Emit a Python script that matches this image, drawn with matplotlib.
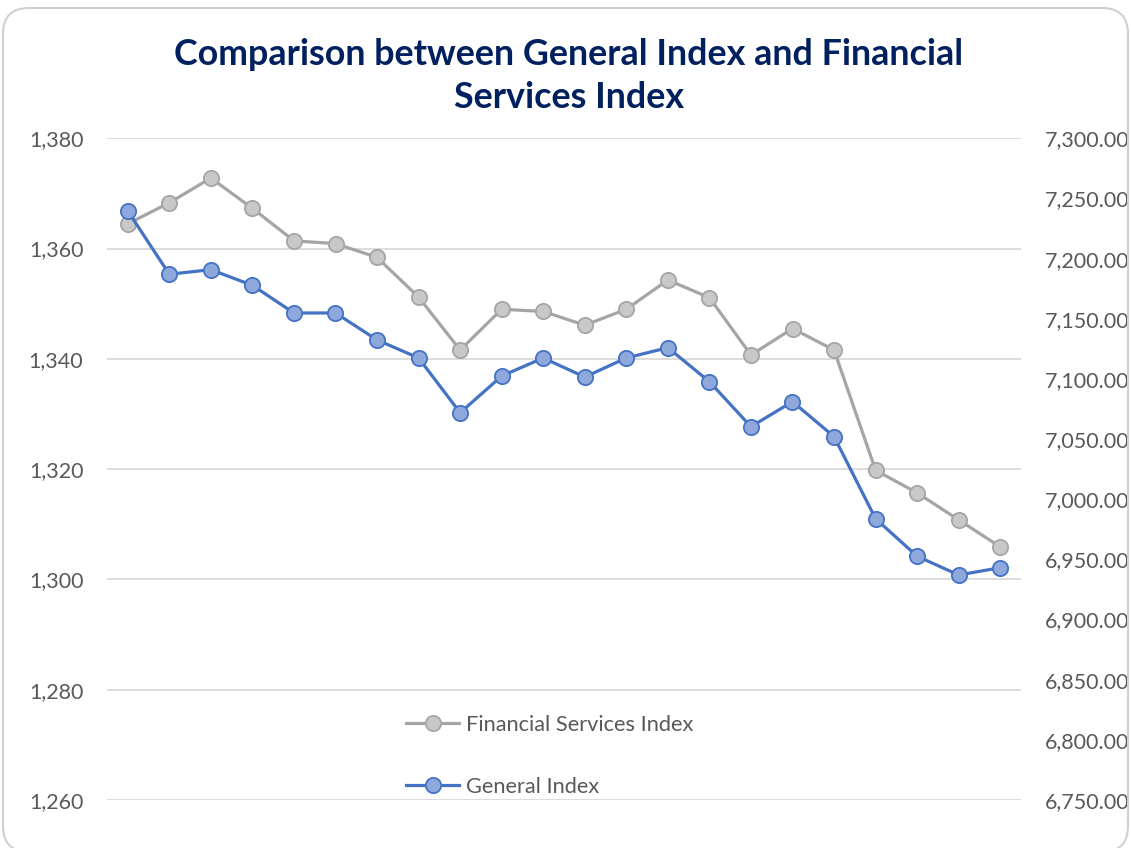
import matplotlib.pyplot as plt
from matplotlib.lines import Line2D
from matplotlib.patches import FancyBboxPatch
from matplotlib.ticker import FuncFormatter
from matplotlib.transforms import IdentityTransform

plt.rcParams["font.family"] = ["Lato", "DejaVu Sans"]

# values (22 periods, no visible x labels)
financial_services = [
    1364.5, 1368.3, 1372.8, 1367.3, 1361.4, 1360.9, 1358.4, 1351.2, 1341.6, 1349.0, 1348.6,
    1346.1, 1349.0, 1354.3, 1351.1, 1340.7, 1345.5, 1341.6, 1319.8, 1315.7, 1310.8, 1305.9,
]
general_index = [
    7239.6, 7187.0, 7190.8, 7177.8, 7154.8, 7154.8, 7132.4, 7117.4, 7071.9, 7102.4, 7117.4,
    7101.6, 7117.4, 7126.0, 7097.7, 7060.3, 7081.1, 7052.0, 6983.8, 6952.6, 6937.0, 6943.1,
]
left_ticks = [1260, 1280, 1300, 1320, 1340, 1360, 1380]
right_ticks = [6750, 6800, 6850, 6900, 6950, 7000, 7050, 7100, 7150, 7200, 7250, 7300]

TITLE = "Comparison between General Index and Financial\nServices Index"
LABEL_FS = "Financial Services Index"
LABEL_GI = "General Index"

W, H = 1131, 848
TEXT_GRAY = "#595959"
GRID = "#D9D9D9"
GRAY_LINE, GRAY_FACE = "#A5A5A5", "#C8C8C8"
BLUE_LINE, BLUE_FACE = "#4472C4", "#8FA8DC"

fig = plt.figure(figsize=(W / 100, H / 100), dpi=100)
fig.patch.set_facecolor("white")

# rounded chart border, in pixels
border = FancyBboxPatch((3, -4), W - 6, H - 4,
                        boxstyle="round,pad=0,rounding_size=26",
                        transform=IdentityTransform(), fill=False,
                        edgecolor="#D0D0D0", linewidth=1.5)
fig.add_artist(border)

left, right, top, bottom = 107, 1021, 138.3, 800
ax = fig.add_axes([left / W, 1 - bottom / H, (right - left) / W, (bottom - top) / H])
ax2 = ax.twinx()

x = list(range(len(financial_services)))
ax.plot(x, financial_services, color=GRAY_LINE, lw=2.3, marker="o", ms=11,
        mfc=GRAY_FACE, mec=GRAY_LINE, mew=1.3, zorder=3)
ax2.plot(x, general_index, color=BLUE_LINE, lw=2.3, marker="o", ms=11,
         mfc=BLUE_FACE, mec=BLUE_LINE, mew=1.3, zorder=3)

ax.set_xlim(-0.5, len(x) - 0.5)
ax.set_ylim(left_ticks[0], left_ticks[-1])
ax2.set_ylim(right_ticks[0], right_ticks[-1])
ax.set_yticks(left_ticks)
ax2.set_yticks(right_ticks)
ax.set_xticks([])
ax.yaxis.set_major_formatter(FuncFormatter(lambda v, p: f"{v:,.0f}"))
ax2.yaxis.set_major_formatter(FuncFormatter(lambda v, p: f"{v:,.2f}"))

for a in (ax, ax2):
    for s in a.spines.values():
        s.set_visible(False)
    a.tick_params(axis="y", length=0, pad=17, labelsize=15.5, labelcolor=TEXT_GRAY)
ax.grid(axis="y", color=GRID, lw=1.3)
ax.set_axisbelow(True)

fig.text(569 / W, 1 - 76 / H, TITLE, ha="center", va="center",
         fontsize=25.8, fontweight="bold", color="#002060", linespacing=1.38)

handles = [
    Line2D([], [], color=GRAY_LINE, lw=2.3, marker="o", ms=11, mfc=GRAY_FACE,
           mec=GRAY_LINE, mew=1.3),
    Line2D([], [], color=BLUE_LINE, lw=2.3, marker="o", ms=11, mfc=BLUE_FACE,
           mec=BLUE_LINE, mew=1.3),
]
fig.legend(handles, [LABEL_FS, LABEL_GI], loc="upper left",
           bbox_to_anchor=(406 / W, 1 - 715 / H), frameon=False, fontsize=15.7,
           labelcolor=TEXT_GRAY, handlelength=2.45, handletextpad=0.3,
           labelspacing=1.93, borderpad=0, borderaxespad=0)

fig.savefig("out.png", dpi=100)
